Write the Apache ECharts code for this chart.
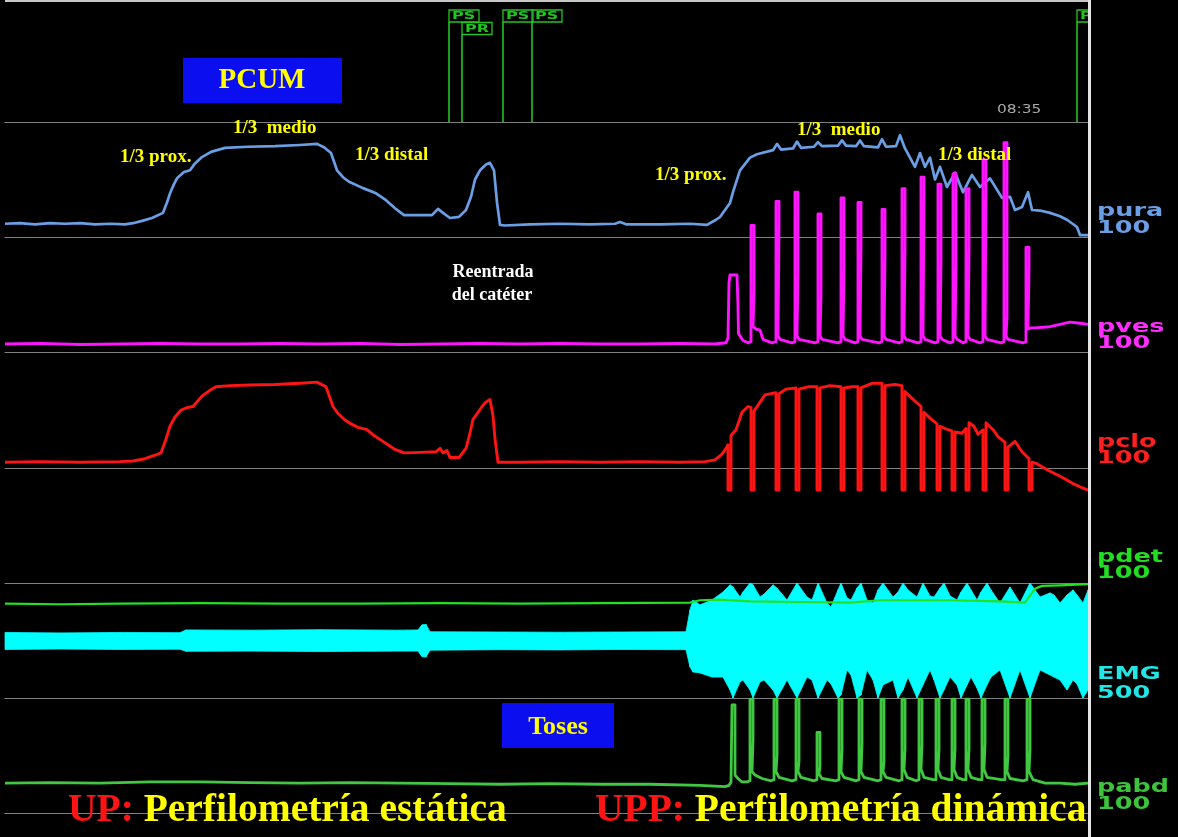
<!DOCTYPE html>
<html>
<head>
<meta charset="utf-8">
<title>PCUM – perfilometría uretral</title>
<script src="https://cdn.jsdelivr.net/npm/echarts@6.0.0/dist/echarts.min.js"></script>
<style>
  html, body { margin: 0; padding: 0; background: #000; }
  #chart { width: 1178px; height: 837px; }
</style>
</head>
<body>
<div id="chart"></div>
<script>
// ---- time base shared by every channel (s) ----
const timeRange = [5, 1088];

// ---- event marks in the top strip ----
const eventTimes = [449, 462, 503, 532, 1077];
const eventCodes = ['PS', 'PR', 'PS', 'PS', 'PS'];
const eventRows  = [0, 1, 0, 0, 0];
const clockLabel = '08:35';

// ---- channel names and full-scale values ----
const channelNames  = ['pura', 'pves', 'pclo', 'pdet', 'EMG', 'pabd'];
const channelScales = ['100', '100', '100', '100', '500', '100'];
const channelMax    = [100, 100, 100, 100, 500, 100];

// ---- urethral pressure (cmH2O) ----
const pura = [
  [5,11.5],[20,12],[35,11],[50,12],[65,11.5],[80,12],[95,11],[110,11.5],[125,11],[133,12],[142,14],[152,16.5],
  [163,21],[167,30],[170,38],[174,46],[177,51],[184,56.5],[190,58],[195,64],[202,69.5],[211,74],[225,77.5],
  [248,78.5],[275,79],[300,80],[317,81],[324,78],[331,73],[337,58],[343,52],[349,48],[363,42.5],[376,38],
  [386,32],[395,25],[404,19],[418,19],[432,19],[438,24.5],[443,21],[450,16.5],[459,17.5],[466,23.5],[471,35],
  [475,50],[480,58],[486,63],[490,64.5],[494,58],[497,30],[500,10.5],[505,10],[530,11],[560,11.5],[590,11],
  [615,11.5],[620,13],[626,11],[660,11],[690,11.5],[707,10.5],[716,15],[720,17.4],[730,29.6],[733,39],
  [740,58],[750,69],[757,72],[773,75.5],[777,81],[781,76],[793,77],[797,83],[801,77.5],[814,78.5],[818,82.5],
  [822,79],[838,79.5],[842,84],[846,79.5],[856,79],[860,84],[864,79],[878,78],[882,85],[886,78.5],[896,79],
  [900,88.5],[905,77],[910,69],[915,61],[920,73],[925,61],[930,69],[935,50],[940,61],[947,43.5],[955,56],
  [963,39],[972,54],[980,43.5],[990,51],[1002,34],[1010,35],[1015,23.5],[1022,26],[1028,39],[1032,23.5],
  [1040,23],[1050,21],[1060,18],[1067,15],[1077,8.7],[1080,1.7],[1088,1.7]
];

// ---- bladder pressure (cmH2O) ----
const pves = [
  [5,7],[40,7.5],[80,6.5],[120,7],[160,7.5],[200,7],[240,7],[280,7.5],[320,7],[360,7.5],[400,6.5],[440,7],
  [480,7.5],[520,7],[560,7.5],[600,7],[640,7],[680,7.5],[715,7],[726,8],
  [728,12],[729,60],[730,67],[737,67],[738,40],[738.5,16],[743,10],[748,8],
  [751,9],[751,110],[754,110],[754,52],[753,52],[753,22],[756,20],[760,19],[763,11],[772,8],
  [776,9],[776,131],[779,131],[779,113],[778,113],[778,14],[780,11],[792,8],
  [795,9],[795,139],[798,139],[798,69],[797,69],[797,14],[799,11],[815,8],
  [818,9],[818,120],[821,120],[821,50],[820,50],[820,14],[822,11],[838,8],
  [841,9],[841,134],[844,134],[844,74],[843,74],[843,14],[845,11],[855,8],
  [858,9],[858,130],[861,130],[861,93],[860,93],[860,14],[862,11],[879,8],
  [882,9],[882,124],[885,124],[885,83],[884,83],[884,14],[886,11],[899,8],
  [902,9],[902,142],[905,142],[905,91],[904,91],[904,14],[906,11],[918,8],
  [921,9],[921,152],[924,152],[924,138],[923,138],[923,14],[925,11],[935,8],
  [938,9],[938,146],[941,146],[941,80],[940,80],[940,14],[942,11],[950,8],
  [953,9],[953,155],[956,155],[956,77],[955,77],[955,14],[957,11],[963,8],
  [966,9],[966,142],[969,142],[969,90],[968,90],[968,14],[970,11],[980,8],
  [983,9],[983,167],[986,167],[986,141],[985,141],[985,14],[987,11],[1001,8],
  [1004,9],[1004,182],[1007,182],[1007,30],[1006,30],[1006,14],[1008,11],[1023,8],
  [1026,9],[1026,91],[1029,91],[1029,74],[1028,74],[1028,20],[1031,21],[1035,21],[1050,22],[1060,24],
  [1070,26],[1080,25],[1088,24]
];

// ---- urethral closure pressure (cmH2O) ----
const pclo = [
  [5,5],[40,5.5],[80,5],[120,5.5],[133,6],[145,8],[155,11],[161,13],[166,25],[170,36],[175,44],[181,50],
  [187,52],[193,53],[202,62],[210,67],[216,70],[230,71],[250,71.5],[275,72],[300,73],[317,74],[326,70],
  [333,53],[338,47],[344,42],[351,38],[358,35],[367,33],[374,28],[381,24],[388,20],[395,16],[404,13],
  [420,13.5],[436,14],[440,17],[443,13],[447,15],[450,9],[459,9],[466,17],[470,30],[473,42],[478,48],
  [482,53],[486,57],[490,59],[493,45],[495,25],[498,5],[520,5],[560,5.5],[600,5],[640,5.5],[680,5],
  [705,5.5],[715,7],[722,12],[726,17],
  [728,20],[728,-19],[731,-19],[731,28],[736,33],[742,48],[748,53],
  [751,52],[751,-19],[754,-19],[754,49],[765,63],
  [776,65],[776,-19],[779,-19],[779,64],[786,68],
  [796,69],[796,-19],[799,-19],[799,68],[808,70],
  [817,70],[817,-19],[820,-19],[820,69],[830,71],
  [841,70],[841,-19],[844,-19],[844,69],[852,70],
  [858,70],[858,-19],[861,-19],[861,69],[872,73],
  [882,73],[882,-19],[885,-19],[885,71],[895,72],
  [902,71],[902,-19],[905,-19],[905,66],[912,60],
  [921,53],[921,-19],[924,-19],[924,48],[930,43],
  [937,38],[937,-19],[940,-19],[940,36],[948,33],
  [952,32],[952,-19],[955,-19],[955,31],[962,30],
  [966,34],[966,-19],[969,-19],[969,39],[974,36],[978,29],
  [983,33],[983,-19],[986,-19],[986,39],[993,33],[998,27],
  [1005,22],[1005,-19],[1008,-19],[1008,18],[1015,23],[1022,14],
  [1029,8],[1029,-19],[1032,-19],[1032,5],[1036,4],[1048,-2],[1062,-8],[1072,-13],[1082,-17],[1088,-19]
];

// ---- detrusor pressure (cmH2O) ----
const pdet = [
  [5,-18],[60,-18.5],[120,-18],[200,-17.5],[280,-18],[360,-18],[440,-17.5],[520,-18],[600,-17.5],[690,-17],
  [700,-15],[720,-14.5],[750,-16],[800,-16.5],[850,-17],[880,-15],[950,-15],[1000,-16],[1025,-17],[1035,-5],
  [1042,-2.5],[1060,-2],[1088,-1]
];

// ---- EMG envelope (µV, channel offset) ----
const emgT = [
  5,60,120,180,186,250,320,400,418,422,426,430,500,560,620,686,
  690,693,700,712,723,730,733,740,743,750,753,760,764,773,777,787,797,807,812,818,827,831,838,841,847,851,
  857,861,867,873,878,883,893,898,903,908,917,923,930,934,940,944,950,957,961,967,971,977,981,987,991,1000,
  1010,1020,1030,1040,1050,1054,1060,1067,1073,1077,1083,1088
];
const emgHigh = [
  285,283,285,284,296,295,297,295,296,318,320,288,287,286,287,288,
  383,426,405,426,461,492,483,439,461,500,492,439,452,492,478,426,500,439,426,500,413,396,470,500,435,426,
  478,500,426,413,470,500,439,461,500,470,439,500,444,439,478,500,444,426,461,500,470,426,461,500,470,413,
  483,413,500,439,457,448,413,448,470,448,413,470
];
const emgLow = [
  211,213,211,212,203,204,202,204,204,180,178,208,210,209,211,210,
  135,113,109,91,91,35,0,70,78,35,0,70,78,35,0,78,0,91,78,0,78,61,0,13,122,100,
  0,13,122,78,0,57,78,0,35,91,0,57,122,78,0,35,91,57,0,57,91,43,0,57,91,122,
  0,122,0,122,100,91,78,35,78,61,0,35
];

// ---- abdominal pressure (cmH2O) ----
const pabd = [
  [5,26],[50,26.5],[100,26],[150,27],[200,27],[250,26.5],[300,26],[350,26.5],[400,26],[450,25.5],[500,25],
  [550,25.5],[600,25],[650,25],[700,24],[725,23],
  [729,24],[731,27],[732,94],[735,94],[735,33],[738,30],[742,27],[747,27],
  [750,28],[750,99],[753,99],[753,63],[752,63],[752,36],[755,33],[762,30],[771,28],
  [774,29],[774,99],[777,99],[777,50],[776,50],[776,36],[779,31],[792,28],
  [796,29],[796,99],[799,99],[799,45],[798,45],[798,36],[801,31],[814,28],
  [817,29],[817,70],[820,70],[820,40],[819,40],[819,34],[822,30],[836,28],
  [839,29],[839,99],[842,99],[842,55],[841,55],[841,36],[844,31],[856,28],
  [859,29],[859,99],[862,99],[862,60],[861,60],[861,36],[864,31],[878,28],
  [881,29],[881,99],[884,99],[884,45],[883,45],[883,36],[886,31],[899,28],
  [902,29],[902,99],[905,99],[905,55],[904,55],[904,38],[907,31],[916,28],
  [919,29],[919,99],[922,99],[922,60],[921,60],[921,38],[924,31],[933,29],
  [936,29],[936,99],[939,99],[939,55],[938,55],[938,38],[941,31],[949,29],
  [952,29],[952,99],[955,99],[955,55],[954,55],[954,38],[957,31],[963,29],
  [966,29],[966,99],[969,99],[969,55],[968,55],[968,38],[971,31],[979,29],
  [982,29],[982,99],[985,99],[985,60],[984,60],[984,38],[987,31],[1001,29],
  [1005,29],[1005,99],[1008,99],[1008,50],[1007,50],[1007,36],[1010,30],[1023,28],
  [1027,29],[1027,99],[1030,99],[1030,55],[1029,55],[1029,36],[1033,29],[1045,26],[1060,26],[1075,25],
  [1088,26]
];

// ---- annotations ----
const zoneLabels = ['1/3 prox.', '1/3  medio', '1/3 distal', '1/3 prox.', '1/3  medio', '1/3 distal'];
const titleText = 'PCUM';
const coughText = 'Toses';
const catheterText = ['Reentrada', 'del catéter'];

// ---------------- layout ----------------
const W = 1178, H = 837;
const PLOT_L = 5, PLOT_R = 1088;
const rowEdges = [0, 122, 237, 352, 468, 583, 698, 813];
const traceColors = ['#6a9fe6', '#ff14ff', '#ff1414', '#22e022', '#00ffff', '#40c840'];
const labelColors = ['#6a9fe6', '#ff2eff', '#ff1f1f', '#22dd22', '#22e6e6', '#3cc43c'];
const gridColor = '#808080';
const YELLOW = '#ffff00';
const BLUE_BOX = '#0b0ff0';
const SERIF = '"Liberation Serif", "Times New Roman", serif';

const grids = [], xAxes = [], yAxes = [];
for (let i = 0; i < 7; i++) {
  grids.push({ left: PLOT_L, width: PLOT_R - PLOT_L, top: rowEdges[i], height: rowEdges[i + 1] - rowEdges[i] });
  xAxes.push({
    gridIndex: i, type: 'value', min: timeRange[0], max: timeRange[1],
    axisLine: { show: true, onZero: false, lineStyle: { color: gridColor, width: 1.2 } },
    axisTick: { show: false }, axisLabel: { show: false }, splitLine: { show: false }
  });
  yAxes.push({ gridIndex: i, type: 'value', min: 0, max: i === 0 ? 1 : channelMax[i - 1], show: false });
}

function trace(idx, data, width) {
  return {
    type: 'line', xAxisIndex: idx + 1, yAxisIndex: idx + 1, data,
    symbol: 'none', clip: false, silent: true,
    lineStyle: { color: traceColors[idx], width: width || 2.9, join: 'round' }
  };
}

// EMG drawn as a filled band between its lower and upper envelope
const emgSegments = emgT.slice(0, -1).map((t, i) =>
  [t, emgLow[i], emgHigh[i], emgT[i + 1], emgLow[i + 1], emgHigh[i + 1]]);

const series = [
  {
    type: 'custom', xAxisIndex: 0, yAxisIndex: 0, silent: true, clip: false,
    data: eventTimes.map((t, i) => [t, eventRows[i], i]),
    renderItem(params, api) {
      const x = api.coord([api.value(0), 0])[0];
      const cs = params.coordSys;
      const boxTop = cs.y + 10 + api.value(1) * 12.5;
      const boxH = 12, boxW = 30;
      const green = '#22c422';
      return {
        type: 'group',
        children: [
          { type: 'line', shape: { x1: x, y1: boxTop + boxH, x2: x, y2: cs.y + cs.height }, style: { stroke: green, lineWidth: 1.6 } },
          { type: 'rect', shape: { x: x, y: boxTop, width: boxW, height: boxH }, style: { fill: 'none', stroke: green, lineWidth: 1.3 } },
          { type: 'text', x: x + 3, y: boxTop + boxH / 2 + 0.5, scaleX: 1.45,
            style: { text: eventCodes[api.value(2)], fill: green, font: 'bold 11px "DejaVu Sans"', align: 'left', verticalAlign: 'middle' } }
        ]
      };
    }
  },
  trace(0, pura, 2.7),
  trace(1, pves),
  trace(2, pclo),
  trace(3, pdet, 2.2),
  trace(5, pabd, 2.8),
  {
    type: 'custom', xAxisIndex: 5, yAxisIndex: 5, silent: true, clip: false,
    data: emgSegments,
    encode: { x: [0, 3], y: [1, 2, 4, 5] },
    renderItem(params, api) {
      const a = api.coord([api.value(0), api.value(2)]);
      const b = api.coord([api.value(3), api.value(5)]);
      const c = api.coord([api.value(3), api.value(4)]);
      const d = api.coord([api.value(0), api.value(1)]);
      return { type: 'polygon', shape: { points: [a, b, c, d] },
        style: { fill: traceColors[4], stroke: traceColors[4], lineWidth: 0.8 } };
    }
  }
];

// static text and frame elements
const graphic = [
  { type: 'line', z: 100, shape: { x1: PLOT_L, y1: 1, x2: PLOT_R, y2: 1 }, style: { stroke: '#c8c8c8', lineWidth: 2 } },
  { type: 'rect', z: 99, shape: { x: PLOT_R + 2, y: 0, width: W - PLOT_R - 2, height: H }, style: { fill: '#000' } },
  { type: 'rect', z: 100, shape: { x: PLOT_R, y: 0, width: 3, height: H }, style: { fill: '#e4e4e4' } },
  { type: 'rect', z: 100, shape: { x: 183, y: 58, width: 159, height: 45 }, style: { fill: BLUE_BOX } },
  { type: 'text', z: 101, x: 262, y: 81, style: { text: titleText, fill: YELLOW, font: 'bold 29px ' + SERIF, align: 'center', verticalAlign: 'middle' } },
  { type: 'rect', z: 100, shape: { x: 502, y: 703, width: 112, height: 45 }, style: { fill: BLUE_BOX } },
  { type: 'text', z: 101, x: 558, y: 727, style: { text: coughText, fill: YELLOW, font: 'bold 26px ' + SERIF, align: 'center', verticalAlign: 'middle' } },
  { type: 'text', z: 101, x: 493, y: 272, style: { text: catheterText[0], fill: '#ffffff', font: 'bold 18px ' + SERIF, align: 'center', verticalAlign: 'middle' } },
  { type: 'text', z: 101, x: 492, y: 295, style: { text: catheterText[1], fill: '#ffffff', font: 'bold 18px ' + SERIF, align: 'center', verticalAlign: 'middle' } },
  { type: 'text', z: 101, x: 997, y: 110, scaleX: 1.28,
    style: { text: clockLabel, fill: '#a8a8a8', font: '12px "DejaVu Sans"', align: 'left', verticalAlign: 'middle' } },
  { type: 'text', z: 101, x: 68, y: 811,
    style: {
      text: '{r|UP:} {y|Perfilometría estática}', font: 'bold 39.5px ' + SERIF, fill: YELLOW, verticalAlign: 'middle',
      rich: { r: { fill: '#ff1414', font: 'bold 39.5px ' + SERIF }, y: { fill: YELLOW, font: 'bold 39.5px ' + SERIF } }
    } },
  { type: 'text', z: 101, x: 595, y: 811,
    style: {
      text: '{r|UPP:} {y|Perfilometría dinámica}', font: 'bold 39.5px ' + SERIF, fill: YELLOW, verticalAlign: 'middle',
      rich: { r: { fill: '#ff1414', font: 'bold 39.5px ' + SERIF }, y: { fill: YELLOW, font: 'bold 39.5px ' + SERIF } }
    } }
];

// zone labels over the urethral trace
const zonePos = [[120, 157], [233, 128], [355, 155], [655, 175], [797, 130], [938, 155]];
zoneLabels.forEach((txt, i) => {
  graphic.push({ type: 'text', z: 101, x: zonePos[i][0], y: zonePos[i][1],
    style: { text: txt, fill: YELLOW, font: 'bold 19px ' + SERIF, align: 'left', verticalAlign: 'middle' } });
});

// channel name / scale on the right margin, aligned to the bottom of each band
const labelBase = [232, 347, 462, 577, 697, 808];
const labelGap  = [18, 17, 17, 17, 20, 18];
channelNames.forEach((name, i) => {
  const font = 'bold 17px "DejaVu Sans", Verdana, sans-serif';
  graphic.push({ type: 'text', z: 101, x: 1097, y: labelBase[i] - labelGap[i] - 2, scaleX: 1.5,
    style: { text: name, fill: labelColors[i], font, align: 'left', verticalAlign: 'middle' } });
  graphic.push({ type: 'text', z: 101, x: 1097, y: labelBase[i] - 3, scaleX: 1.5,
    style: { text: channelScales[i], fill: labelColors[i], font, align: 'left', verticalAlign: 'middle' } });
});

const chart = echarts.init(document.getElementById('chart'), null, { renderer: 'canvas' });
chart.setOption({
  backgroundColor: '#000',
  animation: false,
  grid: grids,
  xAxis: xAxes,
  yAxis: yAxes,
  series,
  graphic
});
</script>
</body>
</html>
